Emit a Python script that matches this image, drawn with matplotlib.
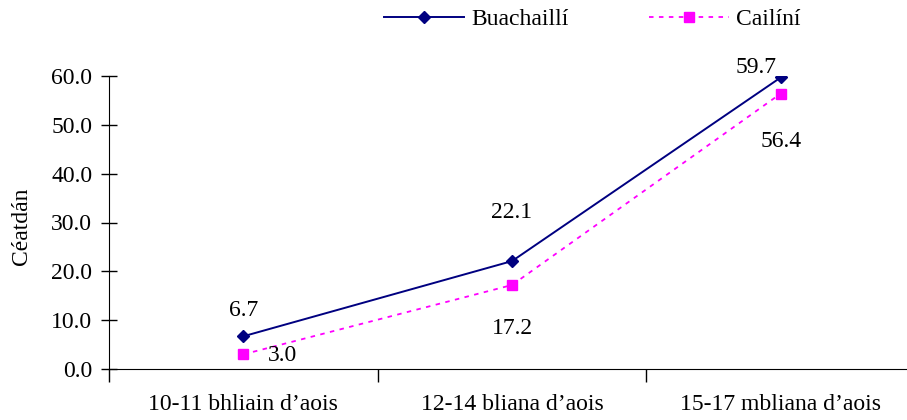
import matplotlib
matplotlib.use("Agg")
import matplotlib.pyplot as plt
from matplotlib.ticker import FormatStrFormatter, FixedLocator

categories = ["10-11 bhliain d\u2019aois", "12-14 bliana d\u2019aois", "15-17 mbliana d\u2019aois"]
boys = [6.7, 22.1, 59.7]
girls = [3.0, 17.2, 56.4]
series_names = ["Buachaillí", "Cailíní"]
y_label = "Céatdán"

plt.rcParams['font.family'] = ['Liberation Serif', 'DejaVu Serif']
FS = 17

fig = plt.figure(figsize=(9.07, 4.2), dpi=100)
ax = fig.add_axes([109/907, 51/420, 1 - 109/907, (369-76)/420])

x = list(range(len(categories)))
ax.plot(x, boys, color='#000080', marker='D', markersize=6, lw=1.4, label=series_names[0])
ax.plot(x, girls, color='#FF00FF', marker='s', markersize=7, lw=1.3, ls=(0, (2.5, 3)), label=series_names[1])

ax.set_xlim(-0.5, 2.47)
ax.set_ylim(0, 60)
ax.set_yticks([0, 10, 20, 30, 40, 50, 60])
ax.yaxis.set_major_formatter(FormatStrFormatter('%.1f'))
ax.xaxis.set_major_locator(FixedLocator([-0.5, 0.5, 1.5]))
ax.set_xticklabels([])
ax.xaxis.set_minor_locator(FixedLocator(x))
ax.set_xticklabels(categories, minor=True, fontsize=FS)
ax.tick_params(axis='x', which='minor', length=0, pad=18)
ax.tick_params(axis='x', which='major', length=9, direction='out', width=1)
ax.tick_params(axis='y', direction='inout', length=12, width=1, labelsize=FS, pad=6)
ax.spines['top'].set_visible(False)
ax.spines['right'].set_visible(False)
fig.text(22/907, 1 - 226/420, y_label, rotation=90, ha='center', va='center', fontsize=FS)

# data labels: offsets in pixels of label centre from the point
offs_b = [(0, 26), (0, 49), (-25, 10)]
offs_g = [(39, -1), (0, -43), (0, -48)]
for i, v in enumerate(boys):
    dx, dy = offs_b[i]
    ax.annotate(f"{v:.1f}", (i, v), xytext=(dx, dy), textcoords='offset pixels', ha='center', va='center', fontsize=FS)
for i, v in enumerate(girls):
    dx, dy = offs_g[i]
    ax.annotate(f"{v:.1f}", (i, v), xytext=(dx, dy), textcoords='offset pixels', ha='center', va='center', fontsize=FS)

fig.legend(loc='center left', bbox_to_anchor=(384/907, 1 - 19/420), ncol=2, frameon=False,
           fontsize=FS, handlelength=3.4, columnspacing=3.4, handletextpad=0.3, borderaxespad=0,
           borderpad=0)

fig.savefig("out.png", dpi=100)
